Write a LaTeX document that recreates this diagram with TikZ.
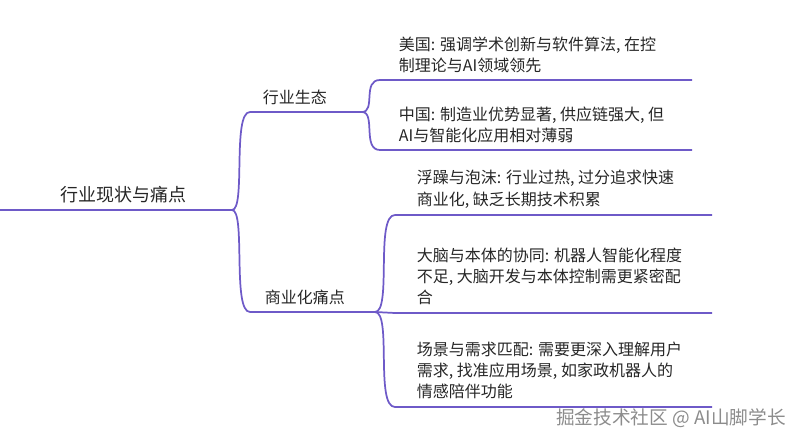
\documentclass[tikz,border=0pt]{standalone}
\usepackage{fontspec}
\setmainfont{Noto Sans CJK SC}
\begin{document}
\begin{tikzpicture}[x=0.75pt,y=-0.75pt,
  lbl/.style={anchor=south west,inner sep=2pt,font=\fontsize{12}{16}\selectfont,align=left,text=black!85}]
\useasboundingbox (0,0) rectangle (798,438);
\definecolor{ln}{RGB}{110,90,200}
\tikzset{br/.style={draw=ln,line width=1.3pt}}
% nodes
\node[lbl,font=\fontsize{13.5}{16}\selectfont] (root) at (58,206) {行业现状与痛点};
\node[lbl] (eco) at (260,108) {行业生态};
\node[lbl] (biz) at (262,308) {商业化痛点};
\node[lbl] (us) at (396,76) {美国: 强调学术创新与软件算法, 在控\\制理论与AI领域领先};
\node[lbl] (cn) at (396,146) {中国: 制造业优势显著, 供应链强大, 但\\AI与智能化应用相对薄弱};
\node[lbl] (f1) at (414,211) {浮躁与泡沫: 行业过热, 过分追求快速\\商业化, 缺乏长期技术积累};
\node[lbl] (f2) at (414,308) {大脑与本体的协同: 机器人智能化程度\\不足, 大脑开发与本体控制需更紧密配\\合};
\node[lbl] (f3) at (414,402) {场景与需求匹配: 需要更深入理解用户\\需求, 找准应用场景, 如家政机器人的\\情感陪伴功能};
% coordinates
\coordinate (r0) at (0,210); \coordinate (r1) at (40,210); \coordinate (r2) at (232,210);
\coordinate (e1) at (250,112); \coordinate (e2) at (362,112);
\coordinate (b1) at (250,312); \coordinate (b2) at (375,312);
\coordinate (u1) at (380,80); \coordinate (u2) at (692,80);
\coordinate (c1) at (380,150); \coordinate (c2) at (692,150);
\coordinate (p1) at (395,215); \coordinate (p2) at (712,215);
\coordinate (q1) at (395,313); \coordinate (q2) at (712,313);
\coordinate (s1) at (395,407); \coordinate (s2) at (712,407);
% lines
\draw[br] (r0) -- (r1) -- (r2);
\draw[br] (r2) .. controls (246,210) and (232,112) .. (e1) -- (e2);
\draw[br] (r2) .. controls (246,210) and (232,312) .. (b1) -- (b2);
\draw[br] (e2) .. controls (376,112) and (362,80) .. (u1) -- (u2);
\draw[br] (e2) .. controls (376,112) and (362,150) .. (c1) -- (c2);
\draw[br] (b2) .. controls (392,312) and (375,215) .. (p1) -- (p2);
\draw[br] (b2) .. controls (385,312) and (385,313) .. (q1) -- (q2);
\draw[br] (b2) .. controls (392,312) and (375,407) .. (s1) -- (s2);
\node[anchor=south east,inner sep=0pt,font=\fontsize{14}{16}\selectfont,text=black!45] (wm) at (786,428) {掘金技术社区 @ AI山脚学长};
\end{tikzpicture}
\end{document}
